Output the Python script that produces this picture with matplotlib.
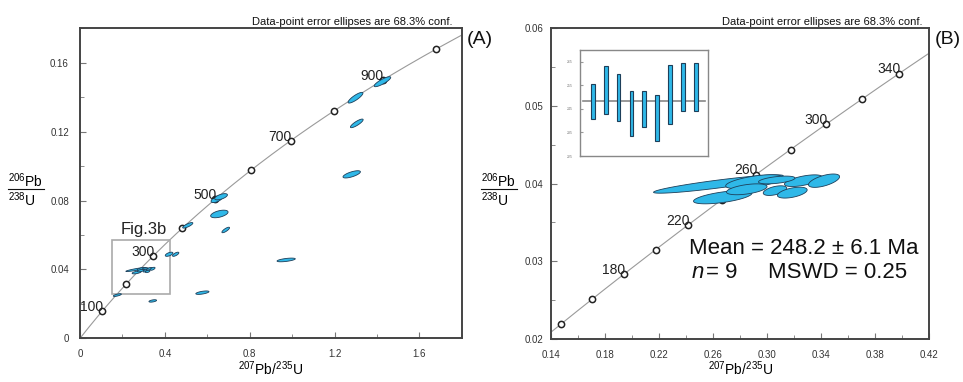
import numpy as np
import matplotlib

matplotlib.use("Agg")
import matplotlib.pyplot as plt
from matplotlib.lines import Line2D
from matplotlib.ticker import MultipleLocator

plt.rcParams["font.family"] = ["Liberation Sans", "DejaVu Sans"]
plt.rcParams["mathtext.fontset"] = "custom"
plt.rcParams["mathtext.rm"] = "Liberation Sans"
plt.rcParams["mathtext.it"] = "Liberation Sans:italic"

L238 = 1.55125e-10
L235 = 9.8485e-10

# concordia age marks (Ma)
ages_a = [100, 200, 300, 400, 500, 600, 700, 800, 900, 1000]
labels_a = [100, 300, 500, 700, 900]
ages_b = [140, 160, 180, 200, 220, 240, 260, 280, 300, 320, 340]
labels_b = [180, 220, 260, 300, 340]

# discordant / older grains shown only in panel A
a_cx = [1.426, 1.299, 1.305, 1.281, 0.645, 0.665, 0.657, 0.687, 0.508, 0.420, 0.451, 0.972, 0.577, 0.343, 0.176]
a_cy = [0.1490, 0.1397, 0.1248, 0.0952, 0.0808, 0.0822, 0.0722, 0.0629, 0.0656, 0.0488, 0.0488, 0.0455, 0.0265, 0.0217, 0.0251]
a_sx = [0.039, 0.035, 0.030, 0.041, 0.027, 0.030, 0.041, 0.018, 0.024, 0.018, 0.015, 0.043, 0.031, 0.018, 0.019]
a_sy = [0.0029, 0.0031, 0.0025, 0.0021, 0.0020, 0.0018, 0.0022, 0.0016, 0.0016, 0.0012, 0.0012, 0.00107, 0.0010, 0.0007, 0.00078]
a_rho = [0.85, 0.85, 0.85, 0.7, 0.6, 0.6, 0.5, 0.8, 0.8, 0.6, 0.7, 0.6, 0.6, 0.5, 0.7]

# the 9 grains of the weighted mean (both panels)
b_cx = [0.2641, 0.2905, 0.2673, 0.3060, 0.3188, 0.3270, 0.3423, 0.3073, 0.2851]
b_cy = [0.03995, 0.04025, 0.03825, 0.03910, 0.03884, 0.04038, 0.04038, 0.04047, 0.03927]
b_sx = [0.048, 0.021, 0.0216, 0.0087, 0.011, 0.014, 0.0115, 0.0135, 0.015]
b_sy = [0.00118, 0.0009, 0.00085, 0.00062, 0.0007, 0.00075, 0.00086, 0.0005, 0.0007]
b_rho = [0.9, 0.6, 0.6, 0.5, 0.5, 0.6, 0.6, 0.5, 0.5]

# inset: 206Pb/238U ages, 1 sigma boxes
inset_hi = [255.6, 263.3, 260.0, 252.8, 252.5, 250.8, 263.7, 264.3, 264.3]
inset_lo = [240.6, 242.9, 240.0, 233.4, 237.5, 231.5, 238.5, 243.9, 243.9]
mean_age = 248.2

FILL = "#2fb8e8"
EDGE = "#1d3f5a"
FRAME = "#444444"


def conc(t_ma):
    t = np.asarray(t_ma, dtype=float) * 1e6
    return np.exp(L235 * t) - 1, np.exp(L238 * t) - 1


def ellipse_xy(cx, cy, sx, sy, rho, n=120):
    t = np.linspace(0, 2 * np.pi, n)
    x = cx + sx * np.cos(t)
    y = cy + sy * (rho * np.cos(t) + np.sqrt(1 - rho ** 2) * np.sin(t))
    return x, y


def style_axes(ax, ypad):
    for s in ax.spines.values():
        s.set_color(FRAME)
        s.set_linewidth(1.4)
    ax.tick_params(which="both", direction="in", color="#777777", top=False, right=False)
    ax.tick_params(which="major", length=4, labelsize=7, labelcolor="#333333")
    ax.tick_params(which="minor", length=3)
    ax.tick_params(axis="x", pad=8)
    ax.tick_params(axis="y", pad=ypad)


def draw_ellipses(ax, cxs, cys, sxs, sys_, rhos):
    for cx, cy, sx, sy, r in zip(cxs, cys, sxs, sys_, rhos):
        x, y = ellipse_xy(cx, cy, sx, sy, r)
        ax.fill(x, y, facecolor=FILL, edgecolor=EDGE, linewidth=0.6, zorder=3)


def draw_concordia(ax, tmax, ages, labels, tmin=0):
    t = np.linspace(tmin, tmax, 400)
    x, y = conc(t)
    ax.plot(x, y, color="#9a9a9a", lw=0.8, zorder=1)
    mx, my = conc(ages)
    ax.plot(mx, my, "o", ms=4.5, mfc="white", mec="#222222", mew=1.1, zorder=2)
    for a in labels:
        lx, ly = conc(a)
        ax.annotate(str(a), (lx, ly), xytext=(1, 3), textcoords="offset points",
                    ha="right", va="center", fontsize=10, color="#222222", zorder=4)


fig = plt.figure(figsize=(9.63, 3.82), dpi=100)

# ---- panel A
ax1 = fig.add_axes([0.0831, 0.1144, 0.3964, 0.8115])
draw_concordia(ax1, 1100, ages_a, labels_a)
draw_ellipses(ax1, a_cx, a_cy, a_sx, a_sy, a_rho)
draw_ellipses(ax1, b_cx, b_cy, b_sx, b_sy, b_rho)
ax1.add_patch(plt.Rectangle((0.15, 0.0258), 0.275, 0.0313, fill=False,
                            edgecolor="#aaaaaa", lw=1.2, zorder=2))
ax1.text(0.302, 0.0634, "Fig.3b", ha="center", va="center", fontsize=12, color="#222222")
ax1.set_xlim(0, 1.8)
ax1.set_ylim(0, 0.18)
ax1.set_xticks([0, 0.4, 0.8, 1.2, 1.6])
ax1.set_xticklabels(["0", "0.4", "0.8", "1.2", "1.6"])
ax1.set_yticks([0, 0.04, 0.08, 0.12, 0.16])
ax1.set_yticklabels(["0", "0.04", "0.08", "0.12", "0.16"])
ax1.xaxis.set_minor_locator(MultipleLocator(0.2))
ax1.yaxis.set_minor_locator(MultipleLocator(0.02))
style_axes(ax1, 8)

# ---- panel B
ax2 = fig.add_axes([0.5719, 0.1126, 0.3928, 0.8134])
draw_concordia(ax2, 420, ages_b, labels_b, tmin=100)
draw_ellipses(ax2, b_cx, b_cy, b_sx, b_sy, b_rho)
ax2.set_xlim(0.14, 0.42)
ax2.set_ylim(0.02, 0.06)
ax2.set_xticks(np.arange(0.14, 0.4201, 0.04))
ax2.set_xticklabels(["0.14", "0.18", "0.22", "0.26", "0.30", "0.34", "0.38", "0.42"])
ax2.set_yticks([0.02, 0.03, 0.04, 0.05, 0.06])
ax2.set_yticklabels(["0.02", "0.03", "0.04", "0.05", "0.06"])
ax2.xaxis.set_minor_locator(MultipleLocator(0.02))
ax2.yaxis.set_minor_locator(MultipleLocator(0.005))
style_axes(ax2, 5.5)

# ---- inset of ages
axi = fig.add_axes([0.6023, 0.5916, 0.1329, 0.2775])
xs = np.arange(1, len(inset_hi) + 1)
axi.bar(xs, np.array(inset_hi) - np.array(inset_lo), bottom=inset_lo, width=0.29,
        color=FILL, edgecolor=EDGE, linewidth=0.8, zorder=3)
axi.axhline(mean_age, xmin=0.025, xmax=0.98, color="#888888", lw=1.2, zorder=2)
axi.set_xlim(0, 9.95)
axi.set_ylim(225, 270)
axi.set_xticks([])
axi.set_yticks([225, 235, 245, 255, 265])
axi.tick_params(axis="y", direction="in", length=2, labelsize=2.5, labelcolor="#777777",
                color="#999999", pad=5)
for s in axi.spines.values():
    s.set_color("#888888")
    s.set_linewidth(1.0)

# ---- texts
W, H = 963, 382


def fx(px):
    return px / W


def fy(py):
    return 1 - py / H


fig.text(fx(452), fy(25), "Data-point error ellipses are 68.3% conf.", ha="right",
         va="baseline", fontsize=8, color="#111111")
fig.text(fx(922), fy(25), "Data-point error ellipses are 68.3% conf.", ha="right",
         va="baseline", fontsize=8, color="#111111")
fig.text(fx(467), fy(40), "(A)", ha="left", va="center", fontsize=14, color="#111111")
fig.text(fx(935), fy(40), "(B)", ha="left", va="center", fontsize=14, color="#111111")

for x0 in (8, 481):
    fig.text(fx(x0), fy(181), r"$^{206}$Pb", ha="left", va="center", fontsize=10)
    fig.text(fx(x0), fy(200), r"$^{238}$U", ha="left", va="center", fontsize=10)
    fig.add_artist(Line2D([fx(x0), fx(x0 + 36)], [fy(189), fy(189)],
                          transform=fig.transFigure, color="#111111", lw=0.8))

fig.text(fx(271), fy(369), r"$^{207}$Pb/$^{235}$U", ha="center", va="center", fontsize=10)
fig.text(fx(741), fy(369), r"$^{207}$Pb/$^{235}$U", ha="center", va="center", fontsize=10)

fig.text(fx(689), fy(248), "Mean = 248.2 \u00b1 6.1 Ma", ha="left", va="center", fontsize=16,
         color="#111111")
fig.text(fx(692), fy(273), "n", ha="left", va="center", fontsize=16, style="italic",
         color="#111111")
fig.text(fx(706), fy(273), "= 9", ha="left", va="center", fontsize=16, color="#111111")
fig.text(fx(768), fy(273), "MSWD = 0.25", ha="left", va="center", fontsize=16, color="#111111")

fig.savefig("out.png", dpi=100)
